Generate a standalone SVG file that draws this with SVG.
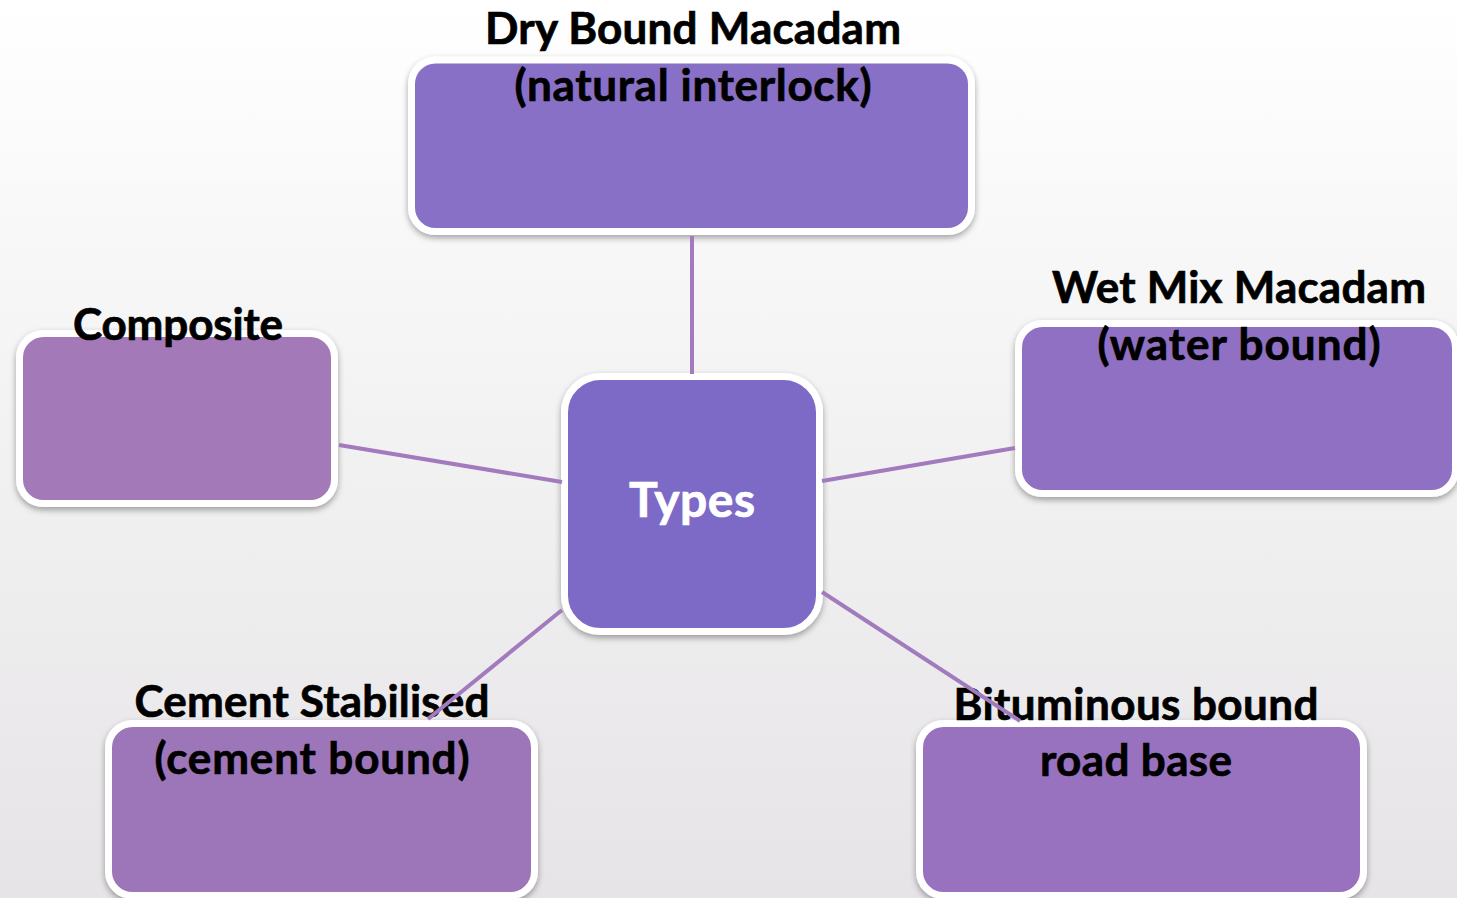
<svg xmlns="http://www.w3.org/2000/svg" width="1457" height="898" viewBox="0 0 1457 898">
  <defs>
    <linearGradient id="bg" x1="0" y1="0" x2="0" y2="1">
      <stop offset="0" stop-color="#FFFFFF"/>
      <stop offset="1" stop-color="#E6E4E6"/>
    </linearGradient>
    <filter id="shadow" x="-10%" y="-10%" width="120%" height="130%">
      <feDropShadow dx="0" dy="3" stdDeviation="3" flood-color="#000000" flood-opacity="0.35"/>
    </filter>
  </defs>
  <style>
    .box { stroke: #FFFFFF; stroke-width: 7; filter: url(#shadow); }
    .lbl { font-family: Lato, "Open Sans", "Liberation Sans", sans-serif; font-weight: bold; font-size: 44px; fill: #000000; stroke: #000000; stroke-width: 0.7; text-anchor: middle; }
    .center { font-family: Lato, "Open Sans", "Liberation Sans", sans-serif; font-weight: bold; font-size: 48px; fill: #FFFFFF; stroke: #FFFFFF; stroke-width: 0.7; text-anchor: middle; }
    .conn { stroke: #A27BBE; stroke-width: 4; fill: none; }
  </style>
  <rect x="0" y="0" width="1457" height="898" fill="url(#bg)"/>

  <g id="node-dry">
    <rect class="box" x="411.5" y="60" width="560" height="171.5" rx="24" fill="#8870C6"/>
    <text class="lbl" x="693" y="44" textLength="416">Dry Bound Macadam</text>
    <text class="lbl" x="693" y="101" textLength="357">(natural interlock)</text>
  </g>
  <g id="node-composite">
    <rect class="box" x="19.5" y="333.5" width="315" height="170" rx="24" fill="#A379B8"/>
    <text class="lbl" x="178" y="340" textLength="210">Composite</text>
  </g>
  <g id="node-wetmix">
    <rect class="box" x="1018.5" y="323.5" width="437" height="170" rx="24" fill="#9070C2"/>
    <text class="lbl" x="1239" y="303" textLength="374">Wet Mix Macadam</text>
    <text class="lbl" x="1239" y="360" textLength="283">(water bound)</text>
  </g>
  <g id="node-types">
    <rect class="box" x="564.5" y="376.5" width="255" height="255" rx="36" fill="#7C6BC6"/>
    <text class="center" x="692" y="517" textLength="126">Types</text>
  </g>
  <g id="node-cement">
    <rect class="box" x="108.5" y="723.5" width="426" height="172" rx="24" fill="#9D76BA"/>
    <text class="lbl" x="312" y="717" textLength="355">Cement Stabilised</text>
    <text class="lbl" x="312" y="774" textLength="315">(cement bound)</text>
  </g>
  <g id="node-bituminous">
    <rect class="box" x="919.5" y="723.5" width="444" height="172" rx="24" fill="#9872BE"/>
    <text class="lbl" x="1136" y="720" textLength="365">Bituminous bound</text>
    <text class="lbl" x="1136" y="776" textLength="192">road base</text>
  </g>

  <g id="connectors">
    <line class="conn" x1="692" y1="236" x2="692" y2="374"/>
    <line class="conn" x1="339" y1="445" x2="562" y2="482"/>
    <line class="conn" x1="822" y1="481" x2="1015" y2="448"/>
    <line class="conn" x1="562" y1="610" x2="428" y2="719"/>
    <line class="conn" x1="822" y1="592" x2="1020" y2="721"/>
  </g>
</svg>
